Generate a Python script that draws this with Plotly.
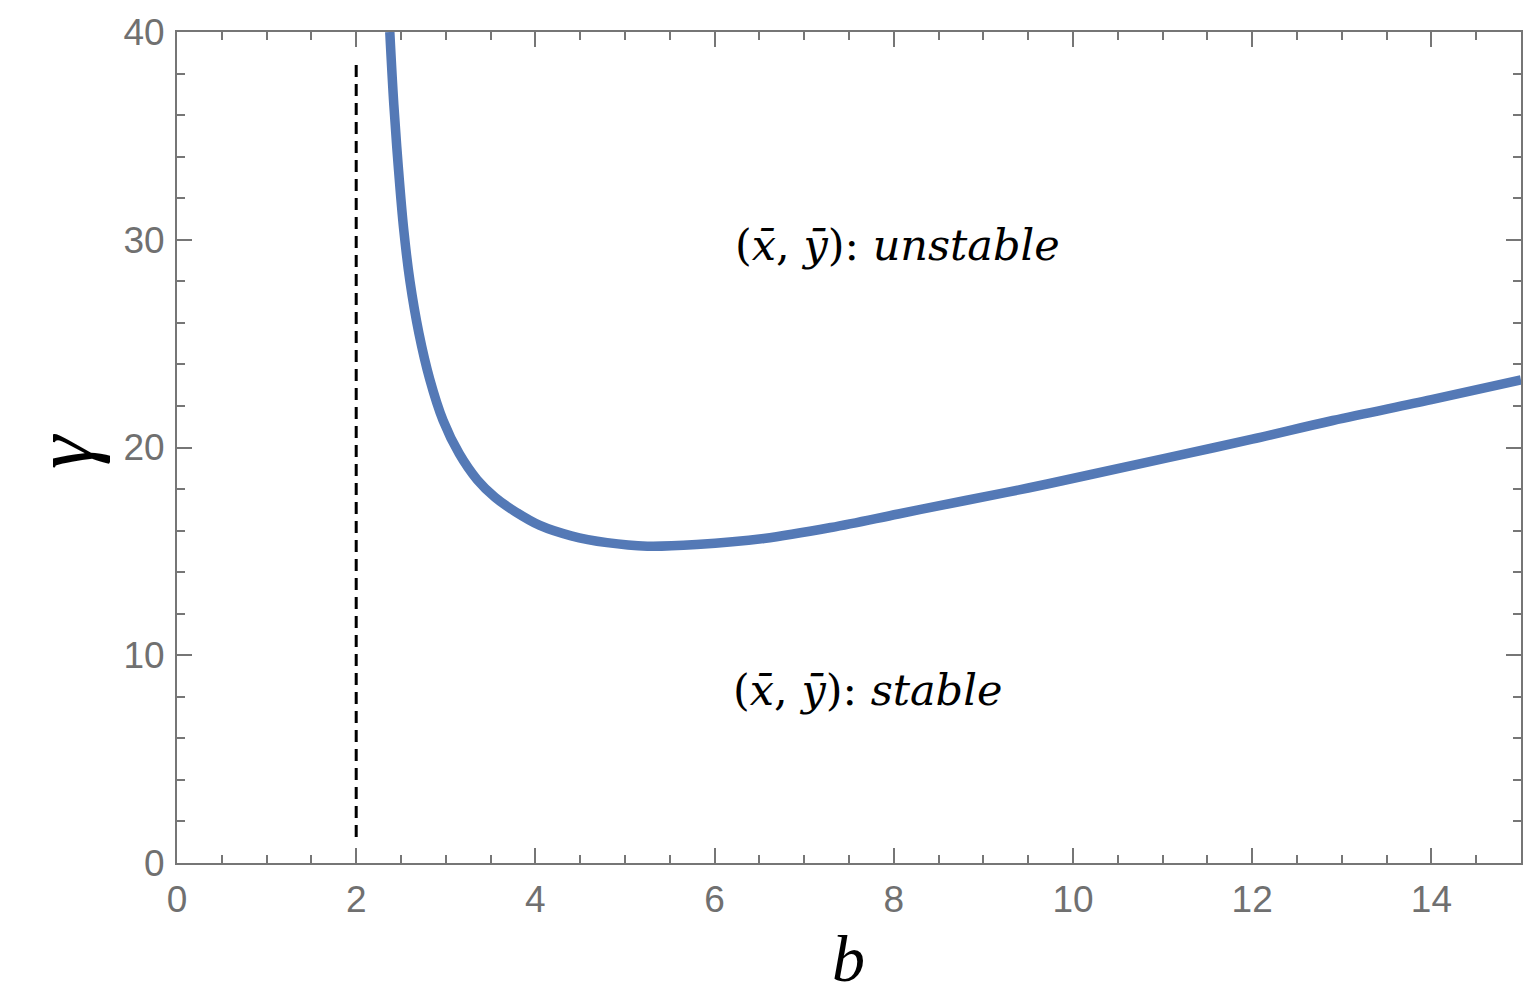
import plotly.graph_objects as go

# curve data (b, gamma)
b_vals = [2.375, 2.42, 2.47, 2.53, 2.60, 2.70, 2.82, 2.97, 3.15, 3.35, 3.55, 3.78, 4.05,
          4.40, 4.80, 5.25, 5.80, 6.55, 7.30, 8.05, 8.80, 9.50, 10.2, 11.05, 12.0,
          12.9, 14.0, 15.0]
gamma_vals = [40.0, 36.5, 33.5, 30.5, 28.0, 25.5, 23.3, 21.3, 19.7, 18.45, 17.6, 16.9, 16.25,
              15.75, 15.42, 15.25, 15.33, 15.62, 16.15, 16.8, 17.45, 18.05, 18.7, 19.5, 20.4,
              21.3, 22.3, 23.25]

dash_b = [2, 2]
dash_gamma = [1.25, 38.7]

x_range = [0, 15]
y_range = [0, 40]
x_ticks = [0, 2, 4, 6, 8, 10, 12, 14]
y_ticks = [0, 10, 20, 30, 40]

label_unstable = "(<i>x̄</i>, <i>ȳ</i>): <i>unstable</i>"
label_stable = "(<i>x̄</i>, <i>ȳ</i>): <i>stable</i>"

FRAME = "#767676"
TICKFONT = dict(family="Liberation Sans, Arial, sans-serif", size=37, color="#707070")
SERIF = "Liberation Serif, Times New Roman, serif"
MATHFONT = "DejaVu Serif, serif"

fig = go.Figure()
fig.add_trace(go.Scatter(x=dash_b, y=dash_gamma, mode="lines",
                         line=dict(color="black", width=3, dash="12px,7px"),
                         showlegend=False, hoverinfo="skip"))
fig.add_trace(go.Scatter(x=b_vals, y=gamma_vals, mode="lines",
                         line=dict(color="#5479b6", width=9.5, shape="spline", smoothing=1.0),
                         showlegend=False))
# invisible trace to bind the mirrored frame axes
fig.add_trace(go.Scatter(x=[None], y=[None], xaxis="x2", yaxis="y2", showlegend=False))

common = dict(showgrid=False, zeroline=False, ticks="inside", tickwidth=2, automargin=False,
              tickcolor=FRAME, showline=True, linecolor=FRAME, linewidth=2)
minor_x = dict(ticks="inside", ticklen=8, tickwidth=2, tickcolor=FRAME, dtick=0.5, showgrid=False)
minor_y = dict(ticks="inside", ticklen=8, tickwidth=2, tickcolor=FRAME, dtick=2, showgrid=False)

W, H = 1530, 992
L, T, R, B = 169, 24, 17, 137
PW, PH = W - L - R, H - T - B
OFF = 8  # page offset of the figure


def px_x(px):
    return (px - OFF - L) / PW


def px_y(py):
    return (T + PH - (py - OFF)) / PH


fig.update_layout(
    width=W, height=H, autosize=False,
    margin=dict(l=L, r=R, t=T, b=B),
    plot_bgcolor="white", paper_bgcolor="white",
    xaxis=dict(range=x_range, tickvals=x_ticks, ticklen=15, tickfont=TICKFONT,
               minor=minor_x, ticklabelstandoff=3, **common),
    yaxis=dict(range=y_range, tickvals=y_ticks, ticklen=15, tickfont=TICKFONT,
               minor=minor_y, ticklabelstandoff=3, **common),
    xaxis2=dict(range=x_range, tickvals=x_ticks, ticklen=15, overlaying="x", side="top",
                anchor="y", showticklabels=False, minor=minor_x, **common),
    yaxis2=dict(range=y_range, tickvals=y_ticks, ticklen=15, overlaying="y", side="right",
                anchor="x", showticklabels=False, minor=minor_y, **common),
    annotations=[
        dict(x=6.2, y=29.75, xref="x", yref="y", text=label_unstable, showarrow=False,
             xanchor="left", yanchor="middle", font=dict(family=MATHFONT, size=43, color="black")),
        dict(x=6.18, y=8.33, xref="x", yref="y", text=label_stable, showarrow=False,
             xanchor="left", yanchor="middle", font=dict(family=MATHFONT, size=43, color="black")),
        dict(x=px_x(848), y=px_y(958), xref="paper", yref="paper",
             text="<i>b</i>", showarrow=False, xanchor="center", yanchor="middle",
             font=dict(family=SERIF, size=66, color="black")),
        dict(x=px_x(63), y=px_y(452), xref="paper", yref="paper",
             text="<i>γ</i>", showarrow=False, xanchor="center", yanchor="middle", textangle=-90,
             font=dict(family=SERIF, size=84, color="black")),
    ],
)

fig.write_html("out.html")
